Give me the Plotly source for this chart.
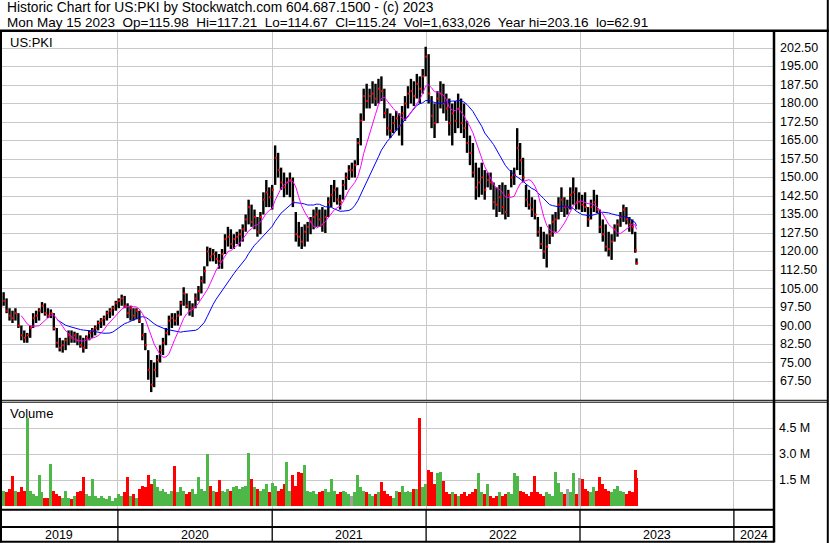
import pandas as pd
import plotly.graph_objects as go

# ---------------- data (weekly bars) ----------------
bar_dates = list(pd.date_range("2019-03-29", "2023-05-12", freq="W-FRI")) + [pd.Timestamp("2023-05-15")]

bar_high = [103, 103.5, 101, 97, 96, 97, 95, 90, 88, 87,
            90, 95, 96, 97, 99.5, 99, 97, 96.5, 95, 89,
            85, 84, 85, 88, 88, 87.5, 87, 86, 85, 86,
            88, 89, 90, 92, 93, 94, 96, 97, 98, 100,
            101, 102.5, 102, 99, 98, 97, 97, 96, 91, 87,
            80, 76, 75, 78, 82, 85, 89, 94, 95, 95,
            96, 100, 105.5, 103, 100, 99, 103, 106, 110, 114,
            122, 121.5, 121, 120, 119, 121, 127, 130, 129, 127,
            128, 129, 131, 135, 141, 139, 137, 134, 136, 144,
            149, 146, 147, 163, 160, 154, 152, 150, 152, 150,
            136, 132, 130, 131, 132, 134, 137, 138, 137, 138,
            137, 142, 147, 149, 146, 143, 149, 152, 155, 156,
            157, 166, 176, 186, 188, 186, 189, 188, 190, 191,
            186, 178, 176, 175, 177, 176, 179, 183, 187, 190,
            189, 192, 191, 194, 203, 200, 183, 180, 185, 189,
            188, 184, 182, 180, 181, 184, 182, 180, 173, 167,
            164, 156, 154, 156, 153, 152, 152, 148, 146, 147,
            148, 147, 145, 153, 154, 170, 164, 158, 147, 145,
            142, 141, 134, 130, 128, 127, 131, 135, 136, 142,
            146, 142, 141, 146, 150, 146, 144, 143, 144, 138,
            141, 145, 143, 137, 133, 131, 128, 127, 131, 133,
            136, 139, 138, 134, 133, 128, 117.21]

bar_low = [96, 98, 95, 92, 91, 92, 89, 84, 83, 83,
           85, 89, 91, 92, 95, 94, 93, 93, 88, 81,
           79.5, 79, 80, 82, 83, 83, 82, 81, 79, 80.5,
           84, 85, 86, 88, 89, 90, 92, 93, 94, 96,
           97, 98, 97, 93, 92, 92, 92.5, 91, 84, 80,
           68, 63, 65, 69, 75, 78, 82, 86, 89, 90,
           90, 94, 98, 97, 94, 93.5, 97, 100, 103, 107,
           114, 116, 116, 115, 113, 113, 119, 122, 121, 121,
           123, 122, 124, 128, 131, 130, 129, 126, 127, 135,
           138, 138, 137, 147, 150, 145, 142, 143, 142, 138,
           124, 122, 121, 122, 124, 127, 129, 130, 130, 128,
           127.5, 134, 138, 140, 139, 137, 141, 145, 149, 150,
           150, 155, 163, 173, 178, 178, 180, 179, 180, 181,
           174, 167, 166, 168, 169, 167, 163, 173, 178, 180,
           179, 182, 180, 184, 191, 180, 170, 166, 172, 178,
           176, 173, 167, 163, 168, 170, 168, 166, 160, 155,
           150, 141, 142, 143, 141, 146, 145, 137, 134, 136,
           135, 133, 134, 146, 147, 153, 151, 148, 138, 137,
           134, 133, 126, 121, 117, 113.5, 123, 126, 128, 133,
           136, 134, 135, 137, 139, 137, 137, 136, 136, 130,
           133, 136, 135.6, 127.5, 124, 120, 118, 116.6, 124, 126,
           130, 132, 131, 128, 127, 119.5, 114.67]

bar_close = [98, 100, 96, 94, 93, 95, 90, 86, 85, 86,
             89, 93, 94, 96, 98, 95, 94, 95, 89, 83,
             81, 82, 84, 86, 85, 86, 84, 82, 81, 85,
             87, 88, 89, 91, 92, 93, 95, 96, 97, 99,
             100, 101, 98, 95, 97, 94, 96, 92, 86, 82,
             72, 66, 72, 76, 80, 83, 87, 92, 93, 92,
             94, 99, 103, 98, 96, 97, 101, 104, 108, 112,
             120, 118, 119, 117, 116, 119, 125, 126, 123, 125,
             126, 127, 129, 133, 138, 132, 134, 128, 134, 141,
             144, 142, 145, 158, 153, 148, 146, 148, 149, 140,
             127, 126, 124, 128, 130, 132, 134, 135, 133, 131,
             134, 140, 143, 145, 141, 140, 147, 150, 153, 153,
             155, 164, 173, 183, 181, 183, 184, 182, 186, 185,
             176, 170, 169, 172, 174, 171, 176, 180, 184, 185,
             183, 188, 186, 191, 199, 184, 175, 172, 182, 184,
             180, 178, 172, 176, 173, 178, 172, 170, 164, 160,
             152, 146, 148, 150, 145, 149, 148, 140, 139, 142,
             138, 136, 143, 150, 151, 162, 157, 150, 141, 139,
             137, 135, 128, 123, 120, 122, 127, 132, 133, 139,
             141, 138, 138, 143, 144, 140, 140, 139, 138, 133,
             138, 140, 137, 130, 127, 122, 121, 124, 129, 131,
             134, 137, 133, 131, 130, 120.5, 115.24]

bar_volume_m = [0.6, 0.9, 0.8, 1.0, 1.73, 0.9, 0.8, 1.1, 0.9, 5.08,
                0.9, 0.7, 0.6, 1.82, 0.8, 0.5, 0.5, 2.46, 0.9, 0.7,
                0.6, 0.5, 0.9, 0.5, 0.4, 0.6, 0.8, 0.9, 1.7, 0.7,
                0.6, 1.6, 0.6, 0.5, 0.6, 0.5, 0.4, 0.6, 0.3, 0.5,
                0.7, 0.6, 0.8, 1.7, 0.6, 0.7, 0.5, 1.0, 1.2, 1.1,
                1.8, 1.3, 1.6, 1.1, 0.9, 1.0, 0.8, 0.7, 0.9, 2.35,
                0.8, 1.1, 0.9, 0.7, 0.8, 1.0, 0.7, 1.7, 1.0, 0.9,
                3.0, 1.2, 0.9, 0.8, 1.5, 0.9, 0.8, 1.0, 0.9, 1.1,
                1.2, 1.0, 1.1, 1.2, 3.05, 1.6, 1.1, 1.0, 0.9, 1.0,
                1.3, 0.8, 1.35, 1.2, 0.9, 1.0, 1.3, 2.55, 0.9, 1.8,
                1.2, 2.0, 1.9, 2.4, 0.9, 0.8, 0.9, 0.7, 0.8, 0.9,
                1.0, 0.8, 1.55, 0.9, 0.7, 0.8, 0.9, 0.8, 0.7, 0.6,
                0.8, 1.8, 1.1, 0.9, 0.8, 0.7, 0.6, 0.7, 0.8, 1.4,
                0.9, 0.7, 0.6, 0.5, 0.9, 0.8, 1.2, 0.8, 0.9, 0.8,
                1.0, 1.0, 5.1, 1.1, 1.3, 2.1, 2.0, 1.3, 1.9, 2.0,
                1.45, 0.8, 0.7, 0.8, 0.7, 0.6, 0.7, 0.8, 0.6, 0.7,
                0.8, 1.0, 1.9, 0.8, 0.7, 1.3, 0.6, 0.5, 0.6, 0.8,
                0.6, 0.7, 0.8, 0.7, 1.9, 1.75, 0.9, 0.8, 0.7, 0.6,
                0.8, 1.75, 0.8, 0.7, 0.6, 0.8, 0.7, 0.6, 2.0, 1.35,
                0.8, 0.7, 1.0, 0.8, 1.9, 0.7, 1.65, 1.6, 1.0, 0.9,
                0.8, 1.1, 0.9, 1.7, 1.3, 1.0, 0.9, 0.8, 1.0, 1.2,
                0.9, 0.8, 0.7, 0.9, 0.8, 2.1, 1.633026]

price_ticks = [67.5 + 7.5 * i for i in range(19)]
volume_ticks = [1.5e6, 3.0e6, 4.5e6]
volume_tick_labels = ["1.5 M", "3.0 M", "4.5 M"]
year_labels = [2019, 2020, 2021, 2022, 2023, 2024]

NB2 = "\u00a0 "
header_line1 = "Historic Chart for US:PKI by Stockwatch.com 604.687.1500 - (c) 2023"
header_fields = ["Mon May 15 2023", "Op=115.98", "Hi=117.21", "Lo=114.67", "Cl=115.24",
                 "Vol=1,633,026", "Year hi=203.16", "lo=62.91"]
header_line2 = NB2.join(header_fields)

n = min(len(bar_dates), len(bar_high), len(bar_low), len(bar_close), len(bar_volume_m))
bar_dates, bar_high, bar_low = bar_dates[:n], bar_high[:n], bar_low[:n]
bar_close, bar_volume_m = bar_close[:n], bar_volume_m[:n]

# ---------------- geometry ----------------
W, H = 830, 543
FONT = "Liberation Sans, Arial, sans-serif"


def px(xp):
    return xp / W


def py(yp):
    return 1 - yp / H


ref_day = pd.Timestamp("2023-01-01")
px_per_day = 154 / 365.25
x_left = ref_day - pd.Timedelta(days=580 / px_per_day)
x_right = ref_day + pd.Timedelta(days=(774 - 580) / px_per_day)

price_per_px = 7.5 / 18.5
price_lo = 202.5 - (400 - 48) * price_per_px
price_hi = 202.5 + (48 - 32) * price_per_px
vol_per_px = 1.5e6 / 26
vol_lo = -(509 - 506.3) * vol_per_px
vol_hi = (506.3 - 402) * vol_per_px

# ---------------- traces ----------------
close_s = pd.Series(bar_close)
ma_short = close_s.rolling(8).mean()
ma_long = close_s.rolling(20).mean()

seg_x, seg_y = [], []
for d, lo, hi in zip(bar_dates, bar_low, bar_high):
    seg_x += [d, d, None]
    seg_y += [lo, hi, None]

vol_colors = []
for i, c in enumerate(bar_close):
    if i == 0 or c > bar_close[i - 1]:
        vol_colors.append("#4DB848")
    elif c < bar_close[i - 1]:
        vol_colors.append("#FF0000")
    else:
        vol_colors.append("#A0A0A0")

fig = go.Figure()
fig.add_trace(go.Scatter(x=seg_x, y=seg_y, mode="lines",
                         line=dict(color="black", width=2.4), hoverinfo="skip",
                         xaxis="x", yaxis="y", showlegend=False))
fig.add_trace(go.Scatter(x=[d + pd.Timedelta(days=1.5) for d in bar_dates], y=bar_close,
                         mode="markers", marker=dict(symbol="square", size=2, color="#FF0000",
                                                     line=dict(width=0)),
                         xaxis="x", yaxis="y", showlegend=False))
fig.add_trace(go.Scatter(x=bar_dates, y=ma_long, mode="lines",
                         line=dict(color="#0000FF", width=1), xaxis="x", yaxis="y",
                         showlegend=False))
fig.add_trace(go.Scatter(x=bar_dates, y=ma_short, mode="lines",
                         line=dict(color="#FF00FF", width=1), xaxis="x", yaxis="y",
                         showlegend=False))
fig.add_trace(go.Bar(x=bar_dates, y=[v * 1e6 for v in bar_volume_m],
                     marker=dict(color=vol_colors, line=dict(width=0)),
                     width=7 * 86400000, xaxis="x2", yaxis="y2", showlegend=False))

year_starts = [pd.Timestamp(f"{y}-01-01") for y in range(2020, 2025)]

axis_common = dict(type="date", range=[x_left, x_right], domain=[0, px(774)],
                   tickmode="array", tickvals=year_starts, showticklabels=False,
                   showgrid=True, gridcolor="#C8C8C8", gridwidth=1,
                   zeroline=False, showline=False, ticks="", fixedrange=True)

fig.update_layout(
    width=W, height=H,
    margin=dict(l=0, r=0, t=0, b=0),
    paper_bgcolor="white", plot_bgcolor="white",
    font=dict(family=FONT, size=12, color="black"),
    bargap=0,
    xaxis=dict(anchor="y", **axis_common),
    xaxis2=dict(anchor="y2", matches="x", **axis_common),
    yaxis=dict(domain=[py(400), py(32)], range=[price_lo, price_hi],
               tickmode="array", tickvals=price_ticks, showticklabels=False,
               showgrid=True, gridcolor="#C8C8C8", gridwidth=1,
               zeroline=False, showline=False, ticks=""),
    yaxis2=dict(domain=[py(509), py(402)], range=[vol_lo, vol_hi],
                tickmode="array", tickvals=volume_ticks, showticklabels=False,
                showgrid=True, gridcolor="#C8C8C8", gridwidth=1,
                zeroline=False, showline=False, ticks=""),
)

ann = []
ann.append(dict(xref="paper", yref="paper", x=px(5), y=py(7.5), text=header_line1,
                showarrow=False, xanchor="left", yanchor="middle", font=dict(size=13.8)))
ann.append(dict(xref="paper", yref="paper", x=px(5), y=py(22), text=header_line2,
                showarrow=False, xanchor="left", yanchor="middle", font=dict(size=13.5)))
ann.append(dict(xref="paper", yref="paper", x=px(8), y=py(42), text="US:PKI",
                showarrow=False, xanchor="left", yanchor="middle", font=dict(size=13)))
ann.append(dict(xref="paper", yref="paper", x=px(8), y=py(413.5), text="Volume",
                showarrow=False, xanchor="left", yanchor="middle", font=dict(size=13)))
for v in price_ticks:
    ann.append(dict(xref="paper", yref="y", x=px(778), y=v, text=f"{v:.2f}",
                    showarrow=False, xanchor="left", yanchor="middle", font=dict(size=12.5)))
for v, t in zip(volume_ticks, volume_tick_labels):
    ann.append(dict(xref="paper", yref="y2", x=px(777), y=v, text=t,
                    showarrow=False, xanchor="left", yanchor="middle", font=dict(size=12.5)))
for y in year_labels:
    a = max(pd.Timestamp(f"{y}-01-01"), x_left)
    b = min(pd.Timestamp(f"{y + 1}-01-01"), x_right)
    mid = a + (b - a) / 2
    ann.append(dict(xref="x", yref="paper", x=mid, y=py(534.5), text=str(y),
                    showarrow=False, xanchor="center", yanchor="middle", font=dict(size=12.5)))
fig.update_layout(annotations=ann)


def hline(yp, x0p, x1p, w):
    return dict(type="line", xref="paper", yref="paper", x0=px(x0p), x1=px(x1p),
                y0=py(yp), y1=py(yp), line=dict(color="black", width=w))


def vline(xp, y0p, y1p, w):
    return dict(type="line", xref="paper", yref="paper", x0=px(xp), x1=px(xp),
                y0=py(y0p), y1=py(y1p), line=dict(color="black", width=w))


shapes = [
    hline(30.8, 0, 829, 2.5),
    vline(1, 31, 542.5, 2),
    vline(774, 31, 542.5, 2.5),
    vline(827.8, 0, 543, 2),
    hline(400.3, 0, 828, 1),
    hline(402.2, 0, 828, 1),
    hline(509.7, 0, 774, 2),
    hline(527, 0, 774, 2),
    hline(541.8, 0, 774, 2),
]
for ys in year_starts:
    shapes.append(dict(type="line", xref="x", yref="paper", x0=ys, x1=ys,
                       y0=py(541), y1=py(510), line=dict(color="black", width=1.3)))
fig.update_layout(shapes=shapes)

fig.write_html("out.html", config={"displayModeBar": False})
with open("out.html", "r", encoding="utf-8") as f:
    html = f.read()
html = html.replace("<head>", "<head><style>html,body{margin:0;padding:0;overflow:hidden;}</style>", 1)
with open("out.html", "w", encoding="utf-8") as f:
    f.write(html)
